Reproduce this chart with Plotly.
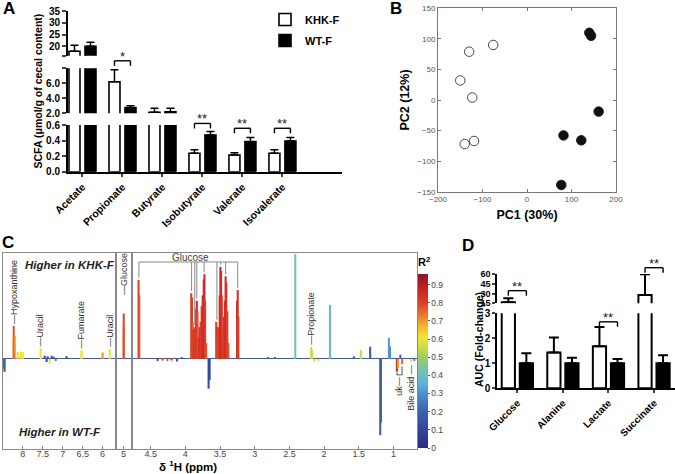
import plotly.graph_objects as go

W, H = 675, 474
FONT = "Liberation Sans, Arial, sans-serif"

# ---------------- Panel A: SCFA ----------------
scfa_cats = ["Acetate", "Propionate", "Butyrate", "Isobutyrate", "Valerate", "Isovalerate"]
scfa_khk = [17.9, 6.2, 2.13, 0.237, 0.215, 0.237]
scfa_khk_err = [2.5, 1.6, 0.54, 0.045, 0.03, 0.045]
scfa_wt = [20.0, 2.75, 2.2, 0.47, 0.386, 0.395]
scfa_wt_err = [1.7, 0.25, 0.47, 0.045, 0.055, 0.045]
scfa_sig_idx = [1, 3, 4, 5]
scfa_sig_seg = [1, 0, 0, 0]
scfa_sig_level = [9.0, 0.62, 0.558, 0.558]
scfa_sig_text = ["*", "**", "**", "**"]
a_seg_ranges = [[0, 0.6], [2, 8], [16, 35]]
a_seg_tickvals = [[0, 0.2, 0.4, 0.6], [2, 4, 6, 8], [16, 20, 25, 30, 35]]
a_seg_ticktext = [["0.0", "0.2", "0.4", "0.6"], ["2.0", "4.0", "6.0", " "], [" ", "20", "25", "30", "35"]]

# ---------------- Panel B: PCA ----------------
pc1_khk = [-150, -130, -76, -123, -140, -119]
pc2_khk = [32, 79, 90, 4, -72, -67]
pc1_wt = [140, 144, 161, 82, 122, 77]
pc2_wt = [110, 105, -19, -58, -66, -139]

# ---------------- Panel C: STOCSY-like loadings ----------------
nmr_ar_ppm = [8.475, 8.465, 8.23, 8.22, 8.21, 8.12, 8.06, 8.00, 7.56, 7.45, 7.41, 7.37, 7.32, 7.28, 7.22, 7.17, 6.91, 6.54, 6.01, 5.82]
nmr_ar_int = [-0.09, -0.12, 0.2, 0.31, 0.22, 0.065, 0.07, 0.065, 0.10, 0.03, -0.03, 0.025, -0.045, 0.03, 0.02, -0.02, 0.025, 0.08, 0.06, 0.095]
nmr_ar_r2 = [0.25, 0.2, 0.72, 0.78, 0.72, 0.62, 0.62, 0.62, 0.6, 0.12, 0.15, 0.12, 0.6, 0.15, 0.15, 0.25, 0.12, 0.6, 0.7, 0.6]

nmr_an_ppm = [5.005, 4.995]
nmr_an_int = [0.43, 0.3]
nmr_an_r2 = [0.8, 0.78]

nmr_al_ppm = [4.675, 4.665, 4.40, 4.33, 4.26, 4.20, 4.12, 4.05,
              3.915, 3.905, 3.895, 3.88, 3.865, 3.845, 3.835, 3.825, 3.81, 3.795, 3.78, 3.765, 3.75, 3.735, 3.725, 3.715, 3.70,
              3.665, 3.65,
              3.555, 3.545, 3.535, 3.52, 3.505, 3.495, 3.485, 3.475, 3.46, 3.445, 3.43, 3.42, 3.41, 3.395, 3.38,
              3.255, 3.245, 3.235,
              2.81, 2.71, 2.415, 2.185, 2.175, 2.14, 2.08, 1.915, 1.57, 1.47, 1.335, 1.19, 1.18, 1.065, 1.05,
              0.95, 0.935, 0.90, 0.875, 0.745, 0.70]
nmr_al_int = [0.745, 0.6, -0.02, -0.015, -0.02, -0.015, -0.025, 0.015,
              0.62, 0.58, 0.35, 0.28, 0.3, 0.47, 0.55, 0.45, 0.2, 0.3, 0.35, 0.5, 0.6, 0.75, 0.8, 0.55, 0.15,
              -0.28, -0.2,
              0.35, 0.3, 0.2, 0.3, 0.6, 0.87, 0.83, 0.6, 0.3, 0.4, 0.55, 0.78, 0.72, 0.45, 0.15,
              0.55, 0.65, 0.4,
              0.015, 0.015, 0.99, 0.115, 0.08, -0.025, -0.02, 0.51, 0.025, 0.085, 0.115, -0.72, -0.6, 0.2, 0.12,
              -0.12, -0.09, 0.04, -0.05, -0.03, -0.02]
nmr_al_r2 = [0.8, 0.78, 0.85, 0.8, 0.75, 0.8, 0.2, 0.2,
             0.82, 0.8, 0.78, 0.85, 0.8, 0.82, 0.85, 0.78, 0.8, 0.85, 0.8, 0.82, 0.85, 0.83, 0.86, 0.8, 0.78,
             0.12, 0.12,
             0.8, 0.82, 0.78, 0.8, 0.84, 0.86, 0.85, 0.82, 0.8, 0.82, 0.84, 0.85, 0.83, 0.8, 0.78,
             0.82, 0.84, 0.8,
             0.2, 0.2, 0.42, 0.55, 0.55, 0.6, 0.6, 0.4, 0.2, 0.55, 0.18, 0.2, 0.2, 0.32, 0.3,
             0.85, 0.7, 0.2, 0.75, 0.6, 0.3]

ar_labels = ["Hypoxanthine", "Uracil", "Fumarate", "Uracil"]
ar_label_ppm = [8.22, 7.56, 6.54, 5.82]
glc_label_ppm = [4.67, 3.91, 3.865, 3.835, 3.73, 3.545, 3.49, 3.42, 3.245]
uk_ppm = [0.95, 0.875]
bile_ppm = 0.745
prop_ppm = 2.18

r2_colors = [[0.0, '#2c2c80'], [0.1, '#33449b'], [0.2, '#3a62ad'], [0.3, '#4b8fcc'], [0.35, '#5db1e0'],
             [0.42, '#74bfb0'], [0.5, '#9fcb62'], [0.56, '#d2dd40'], [0.61, '#f3e433'], [0.67, '#f4b52c'],
             [0.73, '#ec7d2a'], [0.8, '#dc3f29'], [0.88, '#c42126'], [0.93, '#a31c22'], [0.96, '#7d1b1e']]
R2_MAX = 0.96

# ---------------- Panel D: AUC ----------------
auc_cats = ["Glucose", "Alanine", "Lactate", "Succinate"]
auc_khk = [16.8, 1.43, 1.68, 27.7]
auc_khk_err = [6.0, 0.6, 0.77, 32.0]
auc_wt = [1.0, 1.0, 1.0, 1.0]
auc_wt_err = [0.4, 0.22, 0.17, 0.32]
auc_sig_idx = [0, 2, 3]
auc_sig_seg = [1, 0, 1]
auc_sig_level = [34.4, 2.66, 69.7]
auc_sig_text = ["**", "**", "**"]
d_seg_ranges = [[0, 3], [15, 60]]
d_seg_tickvals = [[0, 1, 2, 3], [15, 30, 45, 60]]


def xdom(a, b):
    return [a / W, b / W]


def ydom(top, bot):
    return [1 - bot / H, 1 - top / H]


fig = go.Figure()
shapes = []
annots = []

# ----- Panel A traces -----
A_W, A_OFF_K, A_OFF_W = 0.275, -0.3375, 0.0625
a_yaxes = ['y', 'y2', 'y3']
for s, ya in enumerate(a_yaxes):
    fig.add_trace(go.Bar(x=scfa_cats, y=scfa_khk, xaxis='x', yaxis=ya, width=A_W, offset=A_OFF_K,
                         name='KHK-F', legendgroup='khk', showlegend=(s == 0),
                         marker=dict(color='white', line=dict(color='black', width=1.6)),
                         error_y=dict(type='data', symmetric=False, array=scfa_khk_err, arrayminus=[0] * 6,
                                      color='black', thickness=1.5, width=4)))
    fig.add_trace(go.Bar(x=scfa_cats, y=scfa_wt, xaxis='x', yaxis=ya, width=A_W, offset=A_OFF_W,
                         name='WT-F', legendgroup='wt', showlegend=(s == 0),
                         marker=dict(color='black', line=dict(color='black', width=1.6)),
                         error_y=dict(type='data', symmetric=False, array=scfa_wt_err, arrayminus=[0] * 6,
                                      color='black', thickness=1.5, width=4)))

# ----- Panel B traces -----
fig.add_trace(go.Scatter(x=pc1_khk, y=pc2_khk, xaxis='x2', yaxis='y4', mode='markers', showlegend=False,
                         marker=dict(size=9.5, color='white', line=dict(color='#333', width=0.9))))
fig.add_trace(go.Scatter(x=pc1_wt, y=pc2_wt, xaxis='x2', yaxis='y4', mode='markers', showlegend=False,
                         marker=dict(size=9.5, color='#111', line=dict(color='#111', width=0.9))))

# ----- Panel C traces -----
for xs, ys, cs, xa, ya, wd in [(nmr_ar_ppm, nmr_ar_int, nmr_ar_r2, 'x3', 'y5', 0.035),
                               (nmr_an_ppm, nmr_an_int, nmr_an_r2, 'x4', 'y6', 0.035),
                               (nmr_al_ppm, nmr_al_int, nmr_al_r2, 'x5', 'y7', 0.03)]:
    fig.add_trace(go.Bar(x=xs, y=ys, xaxis=xa, yaxis=ya, width=wd, showlegend=False,
                         marker=dict(color=cs, coloraxis='coloraxis', line=dict(width=0))))

# ----- Panel D traces -----
D_W, D_OFF_K, D_OFF_W = 0.29, -0.343, 0.053
for s, ya in enumerate(['y8', 'y9']):
    fig.add_trace(go.Bar(x=auc_cats, y=auc_khk, xaxis='x6', yaxis=ya, width=D_W, offset=D_OFF_K, showlegend=False,
                         marker=dict(color='white', line=dict(color='black', width=2)),
                         error_y=dict(type='data', symmetric=False, array=auc_khk_err, arrayminus=[0] * 4,
                                      color='black', thickness=2, width=5)))
    fig.add_trace(go.Bar(x=auc_cats, y=auc_wt, xaxis='x6', yaxis=ya, width=D_W, offset=D_OFF_W, showlegend=False,
                         marker=dict(color='black', line=dict(color='black', width=2)),
                         error_y=dict(type='data', symmetric=False, array=auc_wt_err, arrayminus=[0] * 4,
                                      color='black', thickness=2, width=5)))

# ----- axes -----
bold = dict(family=FONT, size=10, color='black', weight='bold')
A_XR = [-0.3625, 6.49]
D_XR = [-0.44, 3.46]
a_doms = [ydom(125, 171.7), ydom(68.3, 113.3), ydom(11, 55.7)]
d_doms = [ydom(313.3, 388.3), ydom(274, 303.3)]

layout = dict(
    template='none',
    width=W, height=H, autosize=False, margin=dict(l=0, r=0, t=0, b=0, autoexpand=False),
    paper_bgcolor='white', plot_bgcolor='white', barmode='overlay',
    font=dict(family=FONT, color='black'),
    legend=dict(x=265 / W, y=1 - 5 / H, xanchor='left', yanchor='top', bgcolor='rgba(0,0,0,0)',
                font=dict(family=FONT, size=11, weight='bold'), itemwidth=30, tracegroupgap=2),
    xaxis=dict(domain=xdom(68, 342), anchor='y', type='category', categoryarray=scfa_cats, range=A_XR,
               showline=True, linecolor='black', linewidth=2, ticks='outside', ticklen=3, tickwidth=1.5,
               tickangle=-45, tickfont=dict(family=FONT, size=10.5, weight='bold'), showgrid=False, zeroline=False),
    xaxis2=dict(domain=xdom(438, 616), anchor='y4', range=[-200, 200], tickvals=[-200, -100, 0, 100, 200],
                showline=True, mirror='ticks', linecolor='#777', linewidth=1, ticks='inside', ticklen=3,
                tickcolor='#777', tickfont=dict(family=FONT, size=8, color='#555'), showgrid=False, zeroline=False,
                title=dict(text='PC1 (30%)', standoff=6, font=dict(family=FONT, size=12.5, weight='bold'))),
    yaxis4=dict(domain=ydom(8.3, 191.7), anchor='x2', range=[-150, 150], tickvals=[-150, -100, -50, 0, 50, 100, 150],
                showline=True, mirror='ticks', linecolor='#777', linewidth=1, ticks='inside', ticklen=3,
                tickcolor='#777', tickfont=dict(family=FONT, size=8, color='#555'), showgrid=False, zeroline=False,
                title=dict(text='PC2 (12%)', standoff=4, font=dict(family=FONT, size=12.5, weight='bold'))),
    xaxis6=dict(domain=xdom(497.3, 675), anchor='y8', type='category', categoryarray=auc_cats, range=D_XR,
                showline=True, linecolor='black', linewidth=2, ticks='outside', ticklen=3, tickwidth=1.5,
                tickangle=-45, tickfont=dict(family=FONT, size=10, weight='bold'), showgrid=False, zeroline=False),
    coloraxis=dict(colorscale=[[p / R2_MAX, c] for p, c in r2_colors], cmin=0, cmax=R2_MAX,
                   colorbar=dict(x=418 / W, xanchor='left', y=1 - 448 / H, yanchor='bottom', len=(448 - 255) / H,
                                 lenmode='fraction', thickness=10, thicknessmode='pixels', xpad=0, ypad=0,
                                 outlinewidth=0, tickvals=[0, 0.1, 0.2, 0.3, 0.4, 0.5, 0.6, 0.7, 0.8, 0.9],
                                 ticks='outside', ticklen=2, tickcolor='#555',
                                 tickfont=dict(family=FONT, size=8.5, color='#444'),
                                 title=dict(text='R<sup>2</sup>', side='top',
                                            font=dict(family=FONT, size=11, weight='bold')))),
)
for s, (ya, dom) in enumerate(zip(['yaxis', 'yaxis2', 'yaxis3'], a_doms)):
    layout[ya] = dict(domain=dom, anchor='x', range=a_seg_ranges[s], tickvals=a_seg_tickvals[s],
                      ticktext=a_seg_ticktext[s], showline=True, linecolor='black', linewidth=2,
                      ticks='outside', ticklen=4, tickwidth=1.5, tickfont=bold, showgrid=False, zeroline=False)
d_tickfonts = [bold, dict(family=FONT, size=9, color='black', weight='bold')]
for s, (ya, dom) in enumerate(zip(['yaxis8', 'yaxis9'], d_doms)):
    layout[ya] = dict(domain=dom, anchor='x6', range=d_seg_ranges[s], tickvals=d_seg_tickvals[s],
                      showline=True, linecolor='black', linewidth=2, ticks='outside', ticklen=3, tickwidth=1.5,
                      tickfont=d_tickfonts[s], showgrid=False, zeroline=False)

c_xdefs = [('xaxis3', 'yaxis5', 'y5', 'x3', xdom(2.7, 115), [8.5, 5.69], [8, 7.5, 7, 6.5, 6]),
           ('xaxis4', 'yaxis6', 'y6', 'x4', xdom(116.7, 130.5), [5.18, 4.82], [5]),
           ('xaxis5', 'yaxis7', 'y7', 'x5', xdom(133, 417), [4.755, 0.66], [4.5, 4, 3.5, 3, 2.5, 2, 1.5, 1])]
C_YR = [-0.85, 1.0]
for xk, yk, yid, xid, dom, rng, tv in c_xdefs:
    layout[xk] = dict(domain=dom, anchor=yid, range=rng, tickvals=tv, showline=True, mirror=True,
                      linecolor='#888', linewidth=1, ticks='inside', ticklen=3, tickcolor='#888',
                      ticklabelstandoff=-4,
                      tickfont=dict(family=FONT, size=9, color='#444'), showgrid=False, zeroline=False)
    layout[yk] = dict(domain=ydom(253, 449), anchor=xid, range=C_YR, showticklabels=False, ticks='',
                      showline=True, mirror=True, linecolor='#888', linewidth=1, showgrid=False,
                      zeroline=True, zerolinecolor='#4356a6', zerolinewidth=1)

for k in list(layout.keys()):
    if k.startswith('xaxis') or k.startswith('yaxis'):
        layout[k]['automargin'] = False


# ----- significance brackets -----
def to_dom(v, rng):
    return (v - rng[0]) / (rng[1] - rng[0])


def add_bracket(xa, ya, xr, yr, seg_px, i, c1, c2, level, text):
    x1, x2 = to_dom(i + c1, xr), to_dom(i + c2, xr)
    yl = to_dom(level, yr)
    arm = 5 / seg_px
    xref, yref = xa + ' domain', ya + ' domain'
    for (p, q, r, t) in [(x1, yl - arm, x1, yl), (x1, yl, x2, yl), (x2, yl, x2, yl - arm)]:
        shapes.append(dict(type='line', xref=xref, yref=yref, x0=p, y0=q, x1=r, y1=t,
                           line=dict(color='black', width=1.4)))
    annots.append(dict(xref=xref, yref=yref, x=(x1 + x2) / 2, y=yl, text=text, showarrow=False,
                       xanchor='center', yanchor='bottom', yshift=-5, font=dict(family=FONT, size=13, color='#222')))


a_ids = ['y', 'y2', 'y3']
for i, sg, lv, tx in zip(scfa_sig_idx, scfa_sig_seg, scfa_sig_level, scfa_sig_text):
    seg_px = (a_doms[sg][1] - a_doms[sg][0]) * H
    add_bracket('x', a_ids[sg], A_XR, a_seg_ranges[sg], seg_px, i,
                A_OFF_K + A_W / 2, A_OFF_W + A_W / 2, lv, tx)
d_ids = ['y8', 'y9']
for i, sg, lv, tx in zip(auc_sig_idx, auc_sig_seg, auc_sig_level, auc_sig_text):
    seg_px = (d_doms[sg][1] - d_doms[sg][0]) * H
    add_bracket('x6', d_ids[sg], D_XR, d_seg_ranges[sg], seg_px, i,
                D_OFF_K + D_W / 2, D_OFF_W + D_W / 2, lv, tx)


# ----- panel C labels -----
def peak_top(ppm_list, int_list, p, tol=0.013):
    vals = [v for q, v in zip(ppm_list, int_list) if abs(q - p) <= tol]
    return max(vals) if vals else 0


lab_font = dict(family=FONT, size=9, color='#333')
for name, p in zip(ar_labels, ar_label_ppm):
    annots.append(dict(xref='x3', yref='y5', x=p, y=peak_top(nmr_ar_ppm, nmr_ar_int, p), text='\u2014' + name,
                       textangle=-90, showarrow=False, yanchor='bottom', xanchor='center', font=lab_font))
annots.append(dict(xref='x4', yref='y6', x=5.0, y=peak_top(nmr_an_ppm, nmr_an_int, 5.0) + 0.15,
                   text='\u2014Glucose', textangle=-90, showarrow=False, yanchor='bottom', xanchor='center',
                   font=lab_font))
annots.append(dict(xref='x5', yref='y7', x=prop_ppm, y=peak_top(nmr_al_ppm, nmr_al_int, prop_ppm),
                   text='\u2014Propionate', textangle=-90, showarrow=False, yanchor='bottom', xanchor='center',
                   font=lab_font))
# glucose bracket in main region
GLC_LEVEL = 0.915
for p in glc_label_ppm:
    top = peak_top(nmr_al_ppm, nmr_al_int, p)
    shapes.append(dict(type='line', xref='x5', yref='y7', x0=p, x1=p, y0=top + 0.02, y1=GLC_LEVEL,
                       line=dict(color='#888', width=1)))
shapes.append(dict(type='line', xref='x5', yref='y7', x0=max(glc_label_ppm), x1=min(glc_label_ppm),
                   y0=GLC_LEVEL, y1=GLC_LEVEL, line=dict(color='#888', width=1)))
annots.append(dict(xref='x5', yref='y7', x=3.93, y=GLC_LEVEL, text='Glucose', showarrow=False,
                   xanchor='center', yanchor='bottom', yshift=-3, font=dict(family=FONT, size=10, color='#444')))
# uk bracket
UK_LEVEL = -0.15
for (p, q, r, t) in [(uk_ppm[0], -0.125, uk_ppm[0], UK_LEVEL), (uk_ppm[0], UK_LEVEL, uk_ppm[1], UK_LEVEL),
                     (uk_ppm[1], UK_LEVEL, uk_ppm[1], -0.07)]:
    shapes.append(dict(type='line', xref='x5', yref='y7', x0=p, y0=q, x1=r, y1=t,
                       line=dict(color='#555', width=1)))
annots.append(dict(xref='x5', yref='y7', x=sum(uk_ppm) / 2, y=UK_LEVEL, text='uk\u2014', textangle=-90,
                   showarrow=False, xanchor='center', yanchor='top', font=lab_font))
annots.append(dict(xref='x5', yref='y7', x=bile_ppm, y=-0.035, text='Bile acid \u2014', textangle=-90,
                   showarrow=False, xanchor='center', yanchor='top', font=lab_font))
annots.append(dict(xref='x3 domain', yref='y5 domain', x=0.6, y=0.94, text='Higher in KHK-F', showarrow=False,
                   xanchor='center', yanchor='middle',
                   font=dict(family=FONT, size=11.5, weight='bold', style='italic', color='#222')))
annots.append(dict(xref='x3 domain', yref='y5 domain', x=0.51, y=0.087, text='Higher in WT-F', showarrow=False,
                   xanchor='center', yanchor='middle',
                   font=dict(family=FONT, size=11.5, weight='bold', style='italic', color='#222')))
annots.append(dict(xref='paper', yref='paper', x=188 / W, y=1 - 466 / H, text='\u03b4 <sup>1</sup>H (ppm)',
                   showarrow=False, xanchor='center', yanchor='middle',
                   font=dict(family=FONT, size=11.5, weight='bold')))

# axis titles for broken axes
annots.append(dict(xref='paper', yref='paper', x=37 / W, y=1 - 91.5 / H, text='SCFA (\u03bcmol/g of cecal content)',
                   textangle=-90, showarrow=False, xanchor='center', yanchor='middle',
                   font=dict(family=FONT, size=10.5, weight='bold')))
annots.append(dict(xref='paper', yref='paper', x=479 / W, y=1 - 340 / H, text='AUC (Fold-change)',
                   textangle=-90, showarrow=False, xanchor='center', yanchor='middle',
                   font=dict(family=FONT, size=10.5, weight='bold')))

# panel letters
for letter, px, py in [('A', 9, 9), ('B', 396, 9), ('C', 8, 242), ('D', 468, 245)]:
    annots.append(dict(xref='paper', yref='paper', x=px / W, y=1 - py / H, text=letter, showarrow=False,
                       xanchor='center', yanchor='middle', font=dict(family=FONT, size=17, weight='bold')))

layout['shapes'] = shapes
layout['annotations'] = annots
fig.update_layout(**layout)
fig.write_html("out.html", config={'displayModeBar': False},
               post_script="document.body.style.margin='0px';")
